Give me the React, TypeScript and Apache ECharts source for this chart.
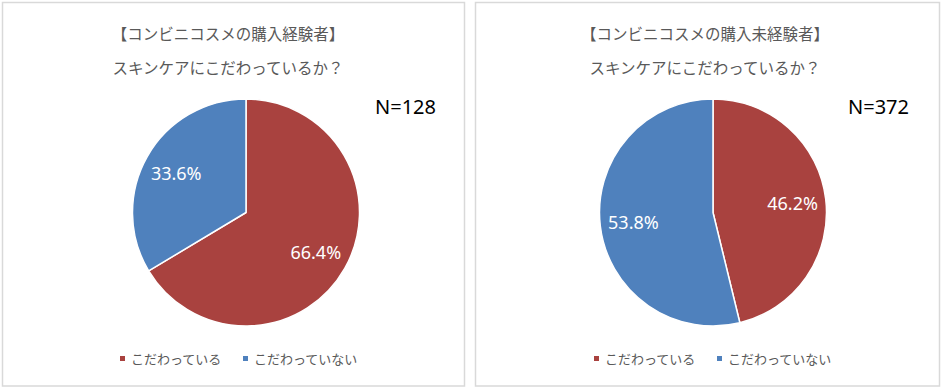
import React, { useEffect, useRef } from "react";
import * as echarts from "echarts";

const categories = ["こだわっている", "こだわっていない"];
const experiencedValues = [66.4, 33.6];
const inexperiencedValues = [46.2, 53.8];
const titleLine1 = ["【コンビニコスメの購入経験者】", "【コンビニコスメの購入未経験者】"];
const titleLine2 = "スキンケアにこだわっているか？";
const sampleSizes = [128, 372];
const colors = ["#A9423F", "#4F81BD"];

export default function App() {
  const ref = useRef<HTMLDivElement>(null);
  useEffect(() => {
    document.body.style.margin = "0";
    const chart = echarts.init(ref.current!, null, { renderer: "svg" });
    const jp = "'Noto Sans CJK JP', 'Noto Sans', sans-serif";
    const panels = [
      { values: experiencedValues, cx: 246, title: 228, nx: 375, legendLeft: 118 },
      { values: inexperiencedValues, cx: 713, title: 705, nx: 848, legendLeft: 592 },
    ];
    const R = 113.5;
    const series: any[] = [];
    panels.forEach((p, i) => {
      series.push({
        type: "pie",
        center: [p.cx, 212.5],
        radius: [0, R],
        startAngle: 90,
        clockwise: true,
        silent: true,
        label: { show: false },
        labelLine: { show: false },
        itemStyle: { borderColor: "#fff", borderWidth: 1.5 },
        data: categories.map((c, k) => ({
          name: c,
          value: p.values[k],
          itemStyle: { color: colors[k] },
        })),
      });
      series.push({
        type: "pie",
        center: [p.cx, 212.5],
        radius: [R * 0.36, R],
        startAngle: 90,
        clockwise: true,
        silent: true,
        legendHoverLink: false,
        itemStyle: { color: "rgba(0,0,0,0)", borderWidth: 0 },
        label: {
          show: true,
          position: "inside",
          color: "#fff",
          fontSize: 18,
          fontFamily: "'Noto Sans', sans-serif",
          formatter: (d: any) => `${Number(d.value).toFixed(1)}%`,
        },
        labelLine: { show: false },
        data: categories.map((c, k) => ({
          name: `label${i}_${k}`,
          value: p.values[k],
        })),
      });
    });
    chart.setOption({
      animation: false,
      title: panels.map((p, i) => ({
        text: `${titleLine1[i]}\n${titleLine2}`,
        left: p.title,
        textAlign: "center",
        top: 16,
        padding: 0,
        textStyle: {
          fontSize: 15.5,
          fontWeight: "normal",
          color: "#595959",
          fontFamily: jp,
          lineHeight: 34,
        },
      })),
      legend: panels.map((p) => ({
        data: categories,
        left: p.legendLeft,
        top: 352,
        padding: 0,
        icon: "rect",
        itemWidth: 7,
        itemHeight: 7,
        itemGap: 19,
        selectedMode: false,
        textStyle: { fontSize: 13, color: "#595959", fontFamily: jp },
      })),
      graphic: [
        {
          type: "rect",
          shape: { x: 2.5, y: 2.5, width: 462, height: 383.5 },
          style: { fill: "none", stroke: "#D9D9D9", lineWidth: 1.5 },
          silent: true,
        },
        {
          type: "rect",
          shape: { x: 475.5, y: 2.5, width: 464, height: 383.5 },
          style: { fill: "none", stroke: "#D9D9D9", lineWidth: 1.5 },
          silent: true,
        },
        ...panels.map((p, i) => ({
          type: "text",
          x: p.nx,
          y: 106,
          style: {
            text: `N=${sampleSizes[i]}`,
            fontSize: 20,
            fill: "#000",
            fontFamily: "'Noto Sans', sans-serif",
            textVerticalAlign: "middle",
          },
        })),
      ],
      series,
    });
    return () => chart.dispose();
  }, []);
  return <div ref={ref} style={{ width: 942, height: 389 }} />;
}
